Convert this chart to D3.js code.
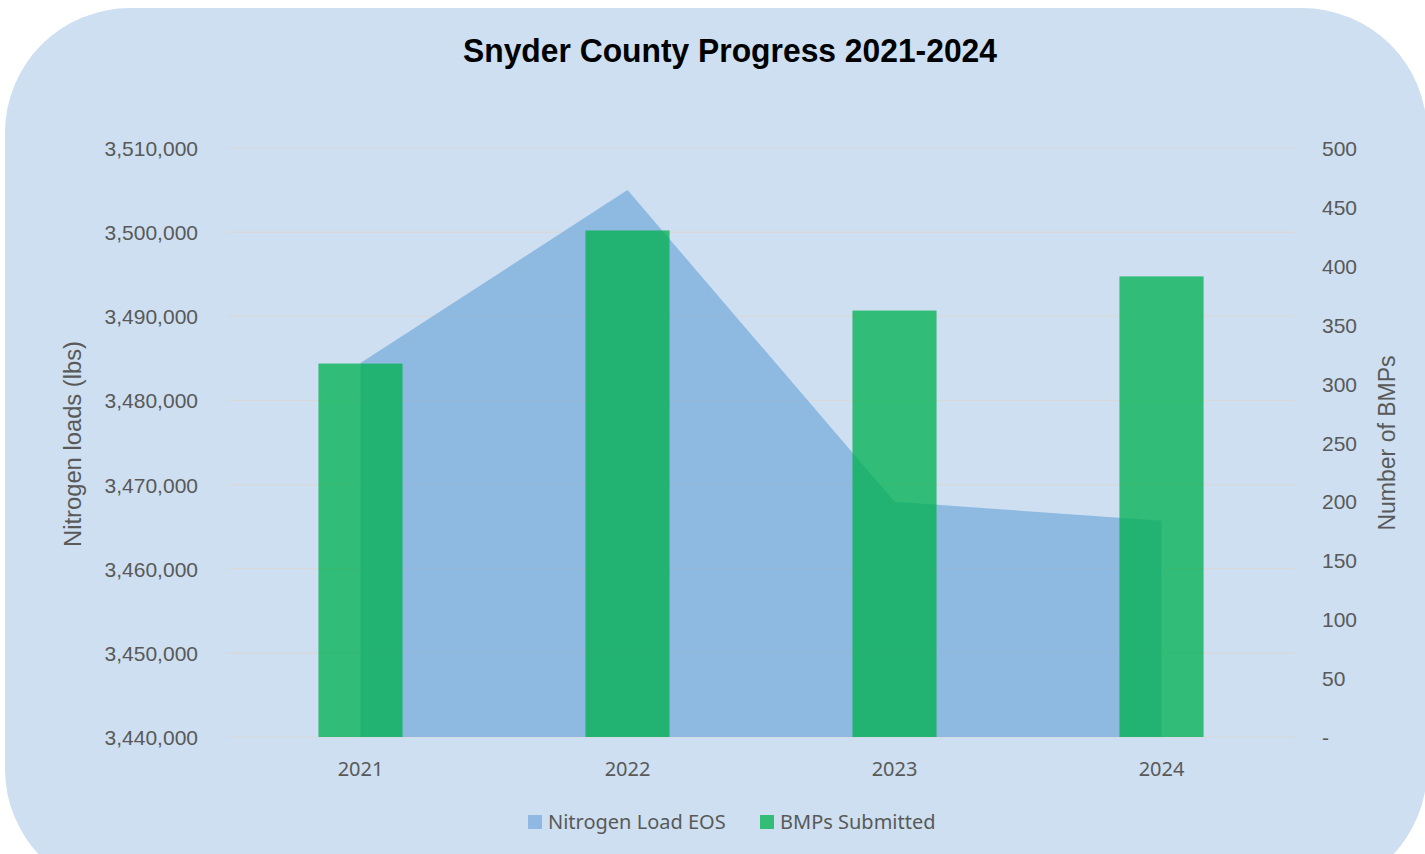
<!DOCTYPE html>
<html>
<head>
<meta charset="utf-8">
<script src="https://cdn.jsdelivr.net/npm/d3@7"></script>
<style>
  body { margin: 0; background: #ffffff; }
  svg { display: block; }
  .tick text { fill: #595959; font-family: "Liberation Sans", Arial, sans-serif; font-size: 21px; }
</style>
</head>
<body>
<svg id="chart" width="1425" height="854"></svg>
<script>
// chart data
var years = ["2021", "2022", "2023", "2024"];
var nitrogenLoad = [3484450, 3505000, 3467960, 3465700];
var bmpsSubmitted = [317, 430, 362, 391];
var leftTicks = [3440000, 3450000, 3460000, 3470000, 3480000, 3490000, 3500000, 3510000];
var rightTicks = [0, 50, 100, 150, 200, 250, 300, 350, 400, 450, 500];
var seriesNames = ["Nitrogen Load EOS", "BMPs Submitted"];

var svg = d3.select("#chart");
var W = 1425, H = 854;
var margin = {left: 227, right: 130, top: 148, bottom: 117};

// rounded background panel
svg.append("rect")
  .attr("x", 5).attr("y", 8)
  .attr("width", W - 5 + 2).attr("height", H - 8 + 40)
  .attr("rx", 125).attr("ry", 125)
  .attr("fill", "#cddff0");

var x = d3.scaleBand()
  .domain(years)
  .range([margin.left, W - margin.right]);
var yL = d3.scaleLinear()
  .domain([3440000, 3510000])
  .range([H - margin.bottom, margin.top]);
var yR = d3.scaleLinear()
  .domain([0, 500])
  .range([H - margin.bottom, margin.top]);

// gridlines
svg.append("g").selectAll("line")
  .data(leftTicks)
  .enter().append("line")
  .attr("x1", margin.left).attr("x2", W - margin.right)
  .attr("y1", function(d) { return yL(d); })
  .attr("y2", function(d) { return yL(d); })
  .attr("stroke", "#d9d9d9").attr("stroke-width", 1.2);

// area series
var cx = function(d, i) { return x(years[i]) + x.bandwidth() / 2; };
var area = d3.area()
  .x(cx)
  .y0(yL(3440000))
  .y1(function(d) { return yL(d); });
svg.append("path")
  .datum(nitrogenLoad)
  .attr("d", area)
  .attr("fill", "#5b9bd5")
  .attr("fill-opacity", 0.55);

// bars
var barW = x.bandwidth() * 0.315;
svg.append("g").selectAll("rect")
  .data(bmpsSubmitted)
  .enter().append("rect")
  .attr("x", function(d, i) { return cx(d, i) - barW / 2; })
  .attr("width", barW)
  .attr("y", function(d) { return yR(d); })
  .attr("height", function(d) { return yR(0) - yR(d); })
  .attr("fill", "#00b050")
  .attr("fill-opacity", 0.76);

// axes
var leftAxis = d3.axisLeft(yL)
  .tickValues(leftTicks)
  .tickSize(0).tickPadding(29)
  .tickFormat(d3.format(","));
var gL = svg.append("g")
  .attr("transform", "translate(" + margin.left + ",0)")
  .call(leftAxis);
gL.select(".domain").remove();
gL.selectAll(".tick text").attr("dy", "0.36em");

var rightAxis = d3.axisRight(yR)
  .tickValues(rightTicks)
  .tickSize(0).tickPadding(27)
  .tickFormat(function(d) { return d === 0 ? "-" : d; });
var gR = svg.append("g")
  .attr("transform", "translate(" + (W - margin.right) + ",0)")
  .call(rightAxis);
gR.select(".domain").remove();
gR.selectAll(".tick text").attr("dy", "0.36em");

var bottomAxis = d3.axisBottom(x).tickSize(0).tickPadding(25);
var gB = svg.append("g")
  .attr("transform", "translate(0," + (H - margin.bottom) + ")")
  .call(bottomAxis);
gB.select(".domain").remove();
gB.selectAll(".tick text")
  .style("font-family", "'Noto Sans', sans-serif")
  .style("font-size", "20px");

// title (condensed to mimic a narrow face)
svg.append("text")
  .attr("x", 730).attr("y", 62)
  .attr("text-anchor", "middle")
  .attr("textLength", 534)
  .attr("lengthAdjust", "spacingAndGlyphs")
  .style("font-family", "'Liberation Sans Narrow', 'Arial Narrow', sans-serif")
  .style("font-weight", "bold")
  .style("font-size", "33px")
  .attr("fill", "#000000")
  .text("Snyder County Progress 2021-2024");

// axis titles
svg.append("text")
  .attr("transform", "translate(81,444) rotate(-90)")
  .attr("text-anchor", "middle")
  .attr("textLength", 206)
  .attr("lengthAdjust", "spacingAndGlyphs")
  .style("font-family", "'Liberation Sans Narrow', 'Arial Narrow', sans-serif")
  .style("font-size", "23px")
  .attr("fill", "#595959")
  .text("Nitrogen loads (lbs)");
svg.append("text")
  .attr("transform", "translate(1395,443) rotate(-90)")
  .attr("text-anchor", "middle")
  .style("font-family", "'Liberation Sans Narrow', 'Arial Narrow', sans-serif")
  .style("font-size", "23px")
  .attr("fill", "#595959")
  .text("Number of BMPs");

// legend
var legendColors = ["#8fb9e3", "#33bd77"];
var legendX = [528, 760];
var lg = svg.append("g").selectAll("g")
  .data(seriesNames)
  .enter().append("g")
  .attr("transform", function(d, i) { return "translate(" + legendX[i] + ",815)"; });
lg.append("rect")
  .attr("width", 14).attr("height", 14)
  .attr("fill", function(d, i) { return legendColors[i]; });
lg.append("text")
  .attr("x", 20).attr("y", 14)
  .style("font-family", "'Noto Sans', sans-serif")
  .style("font-size", "20px")
  .attr("fill", "#595959")
  .text(function(d) { return d; });
</script>
</body>
</html>
